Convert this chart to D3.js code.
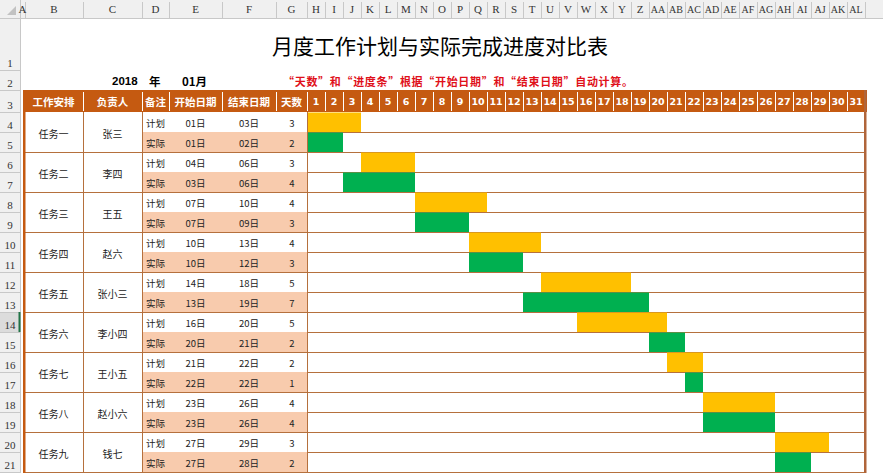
<!DOCTYPE html>
<html><head><meta charset="utf-8">
<script src="https://cdn.jsdelivr.net/npm/d3@7/dist/d3.min.js"></script>
<style>body{margin:0;background:#fff}svg{display:block}</style>
</head><body>
<script>
// ---- data ----
const title = "月度工作计划与实际完成进度对比表";
const yearLabel = "2018", monthLabel = "01月";
const note = "“天数”和“进度条”根据“开始日期”和“结束日期”自动计算。";
const headers = ["工作安排","负责人","备注","开始日期","结束日期","天数"];
const tasks = ["任务一","任务二","任务三","任务四","任务五","任务六","任务七","任务八","任务九"];
const owners = ["张三","李四","王五","赵六","张小三","李小四","王小五","赵小六","钱七"];
const kinds = ["计划","实际"];
const planStart  = [1,4,7,10,14,16,21,23,27];
const planEnd    = [3,6,10,13,18,20,22,26,29];
const actualStart= [1,3,7,10,13,20,22,23,27];
const actualEnd  = [2,6,9,12,19,21,22,26,28];
const dayTicks = d3.range(1,32);

// ---- layout ----
const W=883,H=473;
const svg=d3.select("body").append("svg").attr("width",W).attr("height",H);
const ORANGE="#c55a11", PEACH="#f8cbad", LINE="#b5703d", YEL="#ffc000", GRN="#00b050";
const x=d3.scaleLinear().domain([1,32]).range([307,865]);
const rowY=d3.scaleBand().domain(d3.range(18)).range([112,472]);
const colEdges=[20,25,83,142,169,222,276,307]; // A..G edges
const L=24, R=865;

// Excel column header
svg.append("rect").attr("x",0).attr("y",0).attr("width",W).attr("height",18).attr("fill","#f0f0f0");
svg.append("rect").attr("x",0).attr("y",0).attr("width",20).attr("height",H).attr("fill","#f0f0f0");
svg.append("line").attr("x1",0).attr("x2",W).attr("y1",18.5).attr("y2",18.5).attr("stroke","#c8c8c8");
svg.append("line").attr("x1",20.5).attr("x2",20.5).attr("y1",0).attr("y2",H).attr("stroke","#c8c8c8");
svg.append("path").attr("d","M16,6 L16,15 L7,15 Z").attr("fill","#c2c2c2");
const letters=["A","B","C","D","E","F","G"];
function colName(i){ // 0-based
  let s="";i++;while(i>0){const m=(i-1)%26;s=String.fromCharCode(65+m)+s;i=Math.floor((i-1)/26);}return s;}
const colDefs=[];
for(let i=0;i<7;i++) colDefs.push({n:letters[i],a:colEdges[i],b:colEdges[i+1]});
dayTicks.forEach((d,i)=>colDefs.push({n:colName(7+i),a:x(d),b:x(d+1)}));
const ch=svg.append("g");
colDefs.forEach(c=>{
  ch.append("line").attr("x1",c.b+0.5).attr("x2",c.b+0.5).attr("y1",2).attr("y2",18).attr("stroke","#c8c8c8");
  ch.append("text").attr("x",(c.a+c.b)/2).attr("y",13).attr("text-anchor","middle")
    .attr("font-family","Liberation Serif").attr("font-size",c.n.length>1?10:11).attr("fill","#333").text(c.n);
});

// row header
const rowEdges=[18,70,90,112].concat(d3.range(1,19).map(i=>112+20*i));
svg.append("rect").attr("x",0).attr("y",312).attr("width",20).attr("height",20).attr("fill","#dcdcdc");
for(let r=0;r<rowEdges.length-1;r++){
  const b=rowEdges[r+1];
  svg.append("line").attr("x1",0).attr("x2",20).attr("y1",b+0.5).attr("y2",b+0.5).attr("stroke","#c8c8c8");
  if(b<=H+18) svg.append("text").attr("x",10).attr("y",b-3).attr("text-anchor","middle")
    .attr("font-family","Liberation Serif").attr("font-size",11).attr("fill","#333").text(r+1);
}
svg.append("rect").attr("x",18.5).attr("y",312).attr("width",2).attr("height",20).attr("fill","#217346");

// title + line 2
svg.append("text").attr("x",440).attr("y",45).attr("dominant-baseline","central").attr("text-anchor","middle")
  .attr("font-family","Noto Sans CJK SC").attr("font-size",21).attr("fill","#000").text(title);
const t2=svg.append("g").attr("font-family","Noto Sans CJK SC").attr("font-weight","bold").attr("font-size",11.5);
t2.append("text").attr("x",112).attr("y",81).attr("dominant-baseline","central").attr("font-family","Liberation Sans").text(yearLabel);
t2.append("text").attr("x",149).attr("y",81).attr("dominant-baseline","central").text("年");
t2.append("text").attr("x",182).attr("y",81).attr("dominant-baseline","central").text(monthLabel);
svg.append("text").attr("x",283).attr("y",81).attr("dominant-baseline","central")
  .attr("font-family","Noto Sans CJK SC").attr("font-weight","bold").attr("font-size",11)
  .attr("fill","#e0101a").attr("textLength",350).attr("lengthAdjust","spacing").text(note);

// header row
svg.append("rect").attr("x",L-1).attr("y",90).attr("width",R-L+3).attr("height",22).attr("fill",ORANGE);
const hg=svg.append("g").attr("fill","#fff").attr("font-weight","bold");
headers.forEach((h,i)=>{
  const a=i===0?L:colEdges[i+1], b=colEdges[i+2];
  hg.append("text").attr("x",(a+b)/2).attr("y",101).attr("dominant-baseline","central").attr("text-anchor","middle")
    .attr("font-family","Noto Sans CJK SC").attr("font-size",10.5).text(h);
  if(i<5) hg.append("line").attr("x1",b+0.5).attr("x2",b+0.5).attr("y1",92).attr("y2",111).attr("stroke","#fff");
});
hg.append("line").attr("x1",307.5).attr("x2",307.5).attr("y1",92).attr("y2",111).attr("stroke","#fff");
dayTicks.forEach(d=>{
  hg.append("text").attr("x",(x(d)+x(d+1))/2).attr("y",101).attr("dominant-baseline","central").attr("text-anchor","middle")
    .attr("font-family","DejaVu Sans").attr("font-size",9.5).text(d);
  if(d<31) hg.append("line").attr("x1",x(d+1)+0.5).attr("x2",x(d+1)+0.5).attr("y1",92).attr("y2",111).attr("stroke","#fff");
});

// body rows
const rows=[];
tasks.forEach((t,i)=>{
  rows.push({task:i,kind:0,s:planStart[i],e:planEnd[i]});
  rows.push({task:i,kind:1,s:actualStart[i],e:actualEnd[i]});
});
const body=svg.append("g");
rows.forEach((r,k)=>{
  const y0=rowY(k);
  if(r.kind===1) body.append("rect").attr("x",142).attr("y",y0).attr("width",165).attr("height",20).attr("fill",PEACH);
  body.append("rect").attr("x",x(r.s)).attr("y",y0+0.5).attr("width",x(r.e+1)-x(r.s)).attr("height",19.5)
    .attr("fill",r.kind===0?YEL:GRN);
  const cy=y0+10.5;
  const tx=body.append("g").attr("font-family","Noto Sans CJK SC").attr("font-size",9.5).attr("fill","#222");
  tx.append("text").attr("x",146).attr("y",cy).attr("dominant-baseline","central").text(kinds[r.kind]);
  const pad=v=>(v<10?"0":"")+v+"日";
  tx.append("text").attr("x",195.5).attr("y",cy).attr("dominant-baseline","central").attr("text-anchor","middle").text(pad(r.s));
  tx.append("text").attr("x",249).attr("y",cy).attr("dominant-baseline","central").attr("text-anchor","middle").text(pad(r.e));
  tx.append("text").attr("x",292).attr("y",cy).attr("dominant-baseline","central").attr("text-anchor","middle").text(r.e-r.s+1);
  // horizontal line under row
  const yb=y0+20+0.5;
  body.append("line").attr("x1",r.kind===1?L:142).attr("x2",R).attr("y1",yb).attr("y2",yb).attr("stroke",LINE);
});
tasks.forEach((t,i)=>{
  const cy=rowY(2*i)+21;
  body.append("text").attr("x",(L+83)/2).attr("y",cy).attr("dominant-baseline","central").attr("text-anchor","middle")
    .attr("font-family","Noto Sans CJK SC").attr("font-size",10).attr("fill","#222").text(t);
  body.append("text").attr("x",(83+142)/2).attr("y",cy).attr("dominant-baseline","central").attr("text-anchor","middle")
    .attr("font-family","Noto Sans CJK SC").attr("font-size",10).attr("fill","#222").text(owners[i]);
});
[83,142,307].forEach(v=>body.append("line").attr("x1",v+0.5).attr("x2",v+0.5).attr("y1",112).attr("y2",H).attr("stroke",LINE));
// outer thick borders
svg.append("rect").attr("x",L-1).attr("y",90).attr("width",2.5).attr("height",H-90).attr("fill",ORANGE);
svg.append("rect").attr("x",R-1).attr("y",90).attr("width",2.5).attr("height",H-90).attr("fill","#b0653a");
</script>
</body></html>
